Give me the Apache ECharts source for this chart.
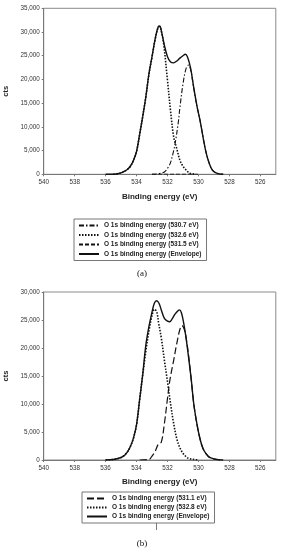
<!DOCTYPE html>
<html><head><meta charset="utf-8">
<script src="https://cdn.jsdelivr.net/npm/echarts@6/dist/echarts.min.js"></script>
<style>html,body{margin:0;padding:0;background:#fff;}#a{position:absolute;left:0;top:0;width:284px;height:280px;}#b{position:absolute;left:0;top:280px;width:284px;height:270px;}</style>
</head><body><div id="a"></div><div id="b"></div>
<script>
// ---- Chart (a) ----
const xTicks = [526, 528, 530, 532, 534, 536, 538, 540];
const aEnvE = [536, 535.5, 535, 534.8, 534.6, 534.4, 534.2, 534.0, 533.8, 533.6, 533.4, 533.2, 533.0, 532.8, 532.6, 532.5, 532.4, 532.2, 532.0, 531.8, 531.6, 531.4, 531.2, 531.0, 530.85, 530.7, 530.5, 530.3, 530.1, 529.9, 529.7, 529.5, 529.3, 529.1, 528.9, 528.6, 528.4];
const aEnvV = [0, 0, 300, 600, 1000, 1700, 2900, 4800, 8400, 12200, 16300, 21200, 24800, 28500, 31100, 31300, 30300, 27200, 24800, 23700, 23500, 23900, 24500, 25000, 25300, 24700, 22300, 18200, 14500, 11400, 7800, 4500, 2300, 900, 350, 50, 0];
const aDotE = [535.5, 535, 534.6, 534.4, 534.2, 534.0, 533.8, 533.6, 533.4, 533.2, 533.0, 532.8, 532.6, 532.5, 532.4, 532.25, 532.0, 531.8, 531.6, 531.4, 531.2, 531.0, 530.8, 530.6, 530.4, 530.2];
const aDotV = [0, 300, 1000, 1700, 2900, 4800, 8400, 12200, 16300, 21000, 24700, 28400, 31000, 31100, 30200, 27600, 19800, 13300, 7900, 5400, 3000, 1700, 900, 300, 100, 0];
const aDdE = [533.0, 532.6, 532.2, 531.93, 531.8, 531.6, 531.49, 531.3, 531.2, 531.0, 530.8, 530.63, 530.5, 530.3, 530.1, 529.9, 529.7, 529.5, 529.3, 529.1, 528.9, 528.6, 528.4];
const aDdV = [0, 100, 500, 1600, 2500, 5000, 6800, 11000, 14000, 19000, 22300, 23040, 22000, 18100, 14400, 11400, 7800, 4500, 2300, 900, 350, 50, 0];
const aDashE = [533.0, 532.0, 531.0, 530.0];
const aDashV = [0, 0, 0, 0];
// ---- Chart (b) ----
const bEnvE = [536.0, 535.5, 535.0, 534.8, 534.6, 534.4, 534.2, 534.0, 533.8, 533.6, 533.4, 533.2, 533.0, 532.85, 532.7, 532.55, 532.4, 532.2, 532.0, 531.86, 531.7, 531.5, 531.3, 531.23, 531.1, 530.95, 530.8, 530.6, 530.46, 530.3, 530.1, 529.9, 529.7, 529.5, 529.3, 529.0, 528.7, 528.4];
const bEnvV = [0, 100, 450, 750, 1400, 2400, 3900, 6300, 10800, 15300, 20500, 23800, 26400, 28000, 28450, 28000, 26800, 25300, 24800, 24700, 25200, 26100, 26700, 26800, 26300, 24400, 21800, 17500, 14290, 10000, 6500, 3800, 2000, 1100, 500, 200, 50, 0];
const bDotE = [536.0, 535.5, 535.0, 534.6, 534.4, 534.2, 534.0, 533.8, 533.6, 533.4, 533.2, 533.0, 532.85, 532.7, 532.57, 532.4, 532.2, 532.0, 531.8, 531.6, 531.4, 531.2, 531.0, 530.8, 530.6, 530.2, 530.0];
const bDotV = [0, 100, 450, 1400, 2400, 3900, 6300, 10700, 15200, 19400, 23000, 25800, 26900, 26500, 24400, 21800, 17800, 14000, 10000, 6500, 3800, 2200, 1200, 600, 250, 50, 0];
const bDashE = [533.8, 533.2, 533.0, 532.8, 532.6, 532.4, 532.2, 532.0, 531.9, 531.8, 531.6, 531.4, 531.2, 531.06, 530.9, 530.75, 530.6, 530.46, 530.3, 530.1, 529.9, 529.7, 529.5, 529.3, 529.0, 528.7, 528.4];
const bDashV = [0, 100, 700, 1500, 2800, 3200, 6500, 11000, 13200, 15000, 17800, 20800, 23300, 24000, 23200, 21000, 17800, 14200, 10000, 6400, 3800, 2000, 1100, 500, 200, 50, 0];

const aNames = ['O 1s binding energy (530.7 eV)', 'O 1s binding energy (532.6 eV)', 'O 1s binding energy (531.5 eV)', 'O 1s binding energy (Envelope)'];
const bNames = ['O 1s binding energy (531.1 eV)', 'O 1s binding energy (532.8 eV)', 'O 1s binding energy (Envelope)'];
const aYMax = 35000, bYMax = 30000, yStep = 5000;

function pairs(xs, ys) { return xs.map((x, i) => [x, ys[i]]); }
const FONT = 'Liberation Sans, Arial, sans-serif';
function fmt(v) { return v === 0 ? '0' : v.toLocaleString('en-US'); }

function lineSeries(name, xs, ys, type, w) {
  return { name, type: 'line', data: pairs(xs, ys), smooth: 0.35, showSymbol: false, symbol: 'none',
    lineStyle: { color: '#111', width: w, type }, itemStyle: { color: '#111' }, z: 3, silent: true };
}

function baseOption(gridTop, gridH, yMax, legendTop, legendLeft, names, caption, captionTop, gap) {
  return {
    animation: false,
    backgroundColor: '#fff',
    textStyle: { fontFamily: FONT },
    grid: { left: 43.7, right: 8.2, top: gridTop, height: gridH, outerBoundsMode: 'none', containLabel: false,
      show: true, borderColor: '#8a8a8a', borderWidth: 1, backgroundColor: 'transparent' },
    xAxis: { type: 'value', min: 525, max: 540, inverse: true,
      name: 'Binding energy (eV)', nameLocation: 'middle', nameGap: 18,
      nameTextStyle: { fontSize: 8, fontWeight: 'bold', color: '#222', fontFamily: FONT },
      axisLine: { show: true, lineStyle: { color: '#777', width: 1 } },
      axisTick: { show: true, inside: false, length: 2, customValues: xTicks, lineStyle: { color: '#777' } },
      axisLabel: { customValues: xTicks, fontSize: 6.3, color: '#333', margin: 5, fontFamily: FONT },
      splitLine: { show: false } },
    yAxis: { type: 'value', min: 0, max: yMax, interval: yStep,
      name: 'cts', nameLocation: 'middle', nameGap: 28, nameRotate: 90,
      nameTextStyle: { fontSize: 7.5, fontWeight: 'bold', color: '#222', fontFamily: FONT },
      axisLine: { show: true, lineStyle: { color: '#777', width: 1 } },
      axisTick: { show: true, length: 2, lineStyle: { color: '#777' } },
      axisLabel: { fontSize: 6.3, color: '#333', margin: 4, formatter: fmt, fontFamily: FONT },
      splitLine: { show: false } },
    legend: { orient: 'vertical', left: legendLeft, top: legendTop, data: names,
      itemWidth: 20, itemHeight: 8, itemGap: gap, padding: [3, 5, 3, 4],
      borderColor: '#777', borderWidth: 1, backgroundColor: '#fff',
      itemStyle: { opacity: 0 },
      textStyle: { fontSize: 6.5, fontWeight: 'bold', color: '#222', fontFamily: FONT },
      selectedMode: false },
    title: { text: caption, left: 'center', top: captionTop,
      textStyle: { fontSize: 9, fontWeight: 'normal', color: '#111', fontFamily: 'Liberation Serif, Times New Roman, serif' } },
    series: []
  };
}

const optA = baseOption(8.3, 166, aYMax, 219, 74, aNames, '(a)', 264, 2.5);
optA.series = [
  lineSeries(aNames[0], aDdE, aDdV, [5, 2, 1.5, 2], 1.1),
  lineSeries(aNames[1], aDotE, aDotV, [1.5, 1.5], 1.6),
  lineSeries(aNames[2], aDashE, aDashV, [4, 2], 1.1),
  lineSeries(aNames[3], aEnvE, aEnvV, 'solid', 1.4)
];
const optB = baseOption(12, 168, bYMax, 212, 82, bNames, '(b)', 254, 2);
optB.series = [
  lineSeries(bNames[0], bDashE, bDashV, [7, 3], 1.2),
  lineSeries(bNames[1], bDotE, bDotV, [1.5, 1.5], 1.6),
  lineSeries(bNames[2], bEnvE, bEnvV, 'solid', 1.4)
];
optB.graphic = [{ type: 'line', shape: { x1: 156.5, y1: 243, x2: 156.5, y2: 250 }, style: { stroke: '#777', lineWidth: 1 } }];

echarts.init(document.getElementById('a'), null, { renderer: 'canvas' }).setOption(optA);
echarts.init(document.getElementById('b'), null, { renderer: 'canvas' }).setOption(optB);
</script></body></html>
